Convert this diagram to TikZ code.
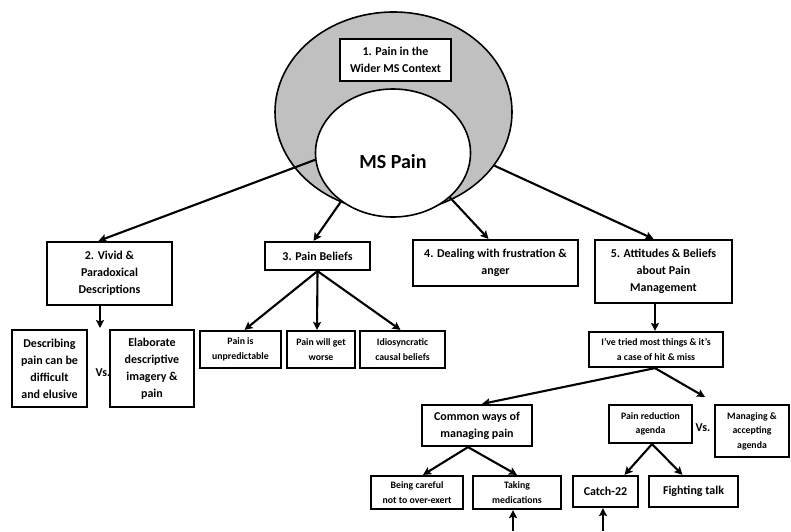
\documentclass[tikz,border=0pt]{standalone}
\usepackage{fontspec}
\setmainfont{Carlito}
\usetikzlibrary{arrows.meta,shapes.geometric}
\definecolor{elgray}{RGB}{192,192,192}
\tikzset{
  bx/.style={draw, line width=2.2pt, fill=white, inner sep=0pt, align=center,
    font=\bfseries\fontsize{12}{17}\selectfont},
  sbx/.style={bx, font=\bfseries\fontsize{9.8}{14.5}\selectfont},
  conn/.style={line width=2.1pt, -{Stealth[length=8pt,width=8pt,inset=1.5pt]}},
  ell/.style={ellipse, draw, line width=1.6pt, inner sep=0pt},
  vstext/.style={font=\bfseries\fontsize{12}{14}\selectfont, inner sep=0pt},
}
\begin{document}
\begin{tikzpicture}[x=1pt,y=-1pt]
\useasboundingbox[fill=white] (0,0) rectangle (791,531);
% ellipses
\node[ell, fill=elgray, minimum width=237pt, minimum height=200pt] (outer) at (393.5,112) {};
\node[ell, fill=white, minimum width=155pt, minimum height=128pt] (inner) at (393,153) {};
\node[font=\bfseries\fontsize{20}{24}\selectfont, inner sep=0pt] (mspain) at (393,162) {MS Pain};
\node[bx, line width=1.8pt, minimum width=111pt, minimum height=42pt] (b1) at (395.5,60) {1. Pain in the\\Wider MS Context};
% level 2
\node[bx, minimum width=125pt, minimum height=63pt] (b2) at (109.5,273.5) {2. Vivid \&\\Paradoxical\\Descriptions};
\node[bx, minimum width=105pt, minimum height=28pt] (b3) at (317.5,256) {3. Pain Beliefs};
\node[bx, minimum width=165pt, minimum height=46pt] (b4) at (495.5,263) {4. Dealing with frustration \&\\anger};
\node[bx, minimum width=137pt, minimum height=63pt] (b5) at (663.5,271.5) {5. Attitudes \& Beliefs\\about Pain\\Management};
% under 2
\node[bx, minimum width=75pt, minimum height=77pt] (desc) at (49.5,368.5) {Describing\\pain can be\\difficult\\and elusive};
\node[bx, minimum width=84pt, minimum height=77pt] (elab) at (152,368.5) {Elaborate\\descriptive\\imagery \&\\pain};
\node[vstext] (vs1) at (103,373) {Vs.};
% under 3
\node[sbx, minimum width=81pt, minimum height=37pt] (unpred) at (240.5,349.5) {Pain is\\unpredictable};
\node[sbx, minimum width=68pt, minimum height=37pt] (worse) at (321,349.5) {Pain will get\\worse};
\node[sbx, minimum width=85pt, minimum height=37pt] (idio) at (402.5,349.5) {Idiosyncratic\\causal beliefs};
% under 5
\node[sbx, minimum width=134pt, minimum height=35pt] (tried) at (656,349.5) {I’ve tried most things \& it’s\\a case of hit \& miss};
\node[bx, minimum width=110pt, minimum height=41pt] (common) at (477,425.5) {Common ways of\\managing pain};
\node[sbx, minimum width=83pt, minimum height=38pt] (reduct) at (650.5,424) {Pain reduction\\agenda};
\node[vstext] (vs2) at (703,428) {Vs.};
\node[sbx, minimum width=74pt, minimum height=52pt] (manag) at (752,431) {Managing \&\\accepting\\agenda};
\node[sbx, minimum width=92pt, minimum height=33pt] (careful) at (417,492.5) {Being careful\\not to over-exert};
\node[sbx, minimum width=88pt, minimum height=33pt] (taking) at (517,492.5) {Taking\\medications};
\node[bx, minimum width=65pt, minimum height=31pt] (catch) at (605.5,491.5) {Catch-22};
\node[bx, minimum width=89pt, minimum height=31pt] (fight) at (693.5,491.5) {Fighting talk};
% free ends
\coordinate (vsdown) at (100,328);
\coordinate (vsright) at (705,397);
\coordinate (bot1) at (513,531);
\coordinate (bot2) at (603,531);
% connectors
\draw[conn] (inner.185) -- ([xshift=-11pt]b2.north);
\draw[conn] (inner.223) -- ([xshift=-4pt]b3.north);
\draw[conn] (inner.-38) -- ([xshift=-7pt]b4.north);
\draw[conn] (outer.-28) -- ([xshift=-10pt]b5.north);
\draw[conn] ([xshift=-9.5pt]b2.south) -- (vsdown);
\draw[conn] (b3.south) -- ([xshift=4pt]unpred.north);
\draw[conn] (b3.south) -- ([xshift=-4pt]worse.north);
\draw[conn] (b3.south) -- ([xshift=-2pt]idio.north);
\draw[conn] ([xshift=-8.5pt]b5.south) -- ([xshift=-1pt]tried.north);
\draw[conn] ([xshift=-1pt]tried.south) -- ([xshift=5pt]common.north);
\draw[conn] ([xshift=-1pt]tried.south) -- (vsright);
\draw[conn] ([xshift=-9pt]common.south) -- ([xshift=6pt]careful.north);
\draw[conn] ([xshift=-9pt]common.south) -- (taking.north);
\draw[conn] ([xshift=1.5pt]reduct.south) -- ([xshift=19pt]catch.north);
\draw[conn] ([xshift=1.5pt]reduct.south) -- ([xshift=-11pt]fight.north);
\draw[conn] (bot1) -- ([xshift=-4pt]taking.south);
\draw[conn] (bot2) -- ([xshift=-2.5pt]catch.south);
\end{tikzpicture}
\end{document}
